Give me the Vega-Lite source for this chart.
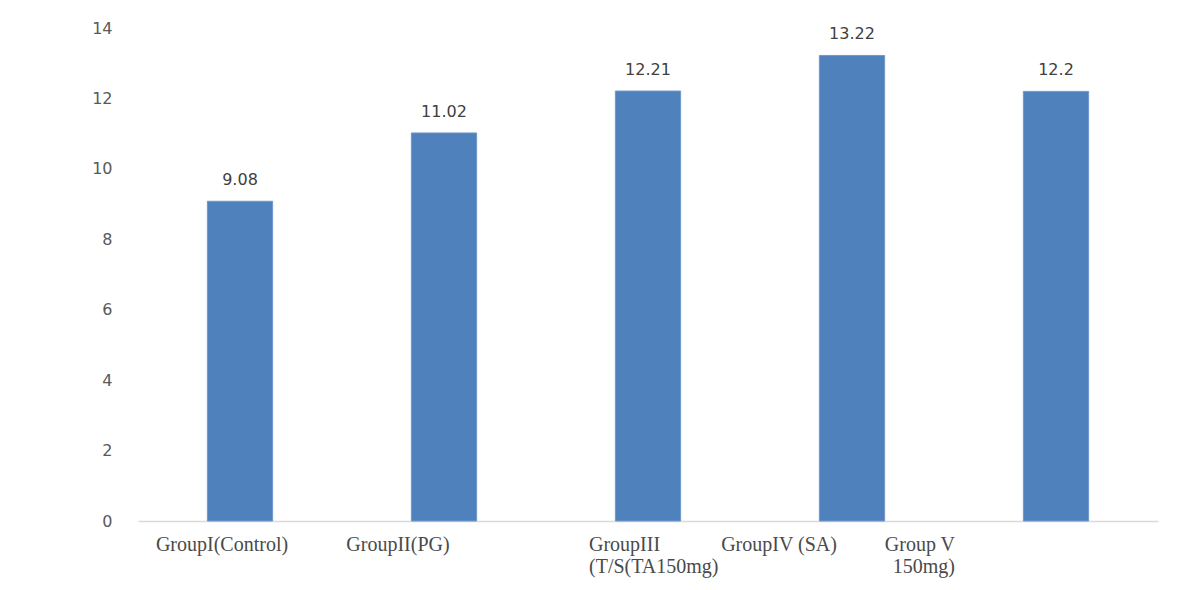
{
  "$schema": "https://vega.github.io/schema/vega-lite/v6.json",
  "width": 1020,
  "height": 493,
  "autosize": {"type": "none"},
  "padding": {"left": 138, "top": 28, "right": 32, "bottom": 69},
  "background": "white",
  "config": {"view": {"stroke": null}},
  "data": {
    "values": [
      {"group": "GroupI(Control)", "value": 9.08},
      {"group": "GroupII(PG)", "value": 11.02},
      {"group": "GroupIII (T/S(TA150mg)", "value": 12.21},
      {"group": "GroupIV (SA)", "value": 13.22},
      {"group": "Group V 150mg)", "value": 12.2}
    ]
  },
  "encoding": {
    "x": {
      "field": "group",
      "type": "nominal",
      "sort": null,
      "scale": {"paddingInner": 0.68, "paddingOuter": 0.34},
      "axis": {
        "title": null,
        "labelAngle": 0,
        "ticks": false,
        "domainColor": "#d9d9d9",
        "domainWidth": 1.5,
        "labelFont": "Liberation Serif",
        "labelFontSize": 20,
        "labelColor": "#4a4a4a",
        "labelPadding": 13,
        "labelLineHeight": 22,
        "labelLimit": 0,
        "labelBaseline": "top",
        "labelExpr": "datum.value == 'GroupIII (T/S(TA150mg)' ? ['GroupIII', '(T/S(TA150mg)'] : datum.value == 'Group V 150mg)' ? ['Group V', '150mg)'] : datum.value",
        "labelAlign": {
          "condition": [
            {"test": "datum.value == 'GroupIII (T/S(TA150mg)'", "value": "left"},
            {"test": "datum.value == 'Group V 150mg)'", "value": "right"}
          ],
          "value": "center"
        },
        "labelOffset": {
          "condition": [
            {"test": "datum.value == 'GroupI(Control)'", "value": -18},
            {"test": "datum.value == 'GroupII(PG)'", "value": -46},
            {"test": "datum.value == 'GroupIII (T/S(TA150mg)'", "value": -59},
            {"test": "datum.value == 'GroupIV (SA)'", "value": -73},
            {"test": "datum.value == 'Group V 150mg)'", "value": -101}
          ],
          "value": 0
        }
      }
    },
    "y": {
      "field": "value",
      "type": "quantitative",
      "scale": {"domain": [0, 14], "nice": false},
      "axis": {
        "title": null,
        "values": [0, 2, 4, 6, 8, 10, 12, 14],
        "grid": false,
        "domain": false,
        "ticks": false,
        "labelFont": "DejaVu Sans",
        "labelFontSize": 16,
        "labelColor": "#595959",
        "labelPadding": 26
      }
    }
  },
  "layer": [
    {
      "mark": {"type": "bar", "color": "#4F81BD", "stroke": "#6f98cc", "strokeWidth": 1}
    },
    {
      "mark": {
        "type": "text",
        "font": "DejaVu Sans",
        "fontSize": 16,
        "color": "#404040",
        "baseline": "alphabetic",
        "dy": -16
      },
      "encoding": {
        "text": {"field": "value", "type": "quantitative"}
      }
    }
  ]
}
